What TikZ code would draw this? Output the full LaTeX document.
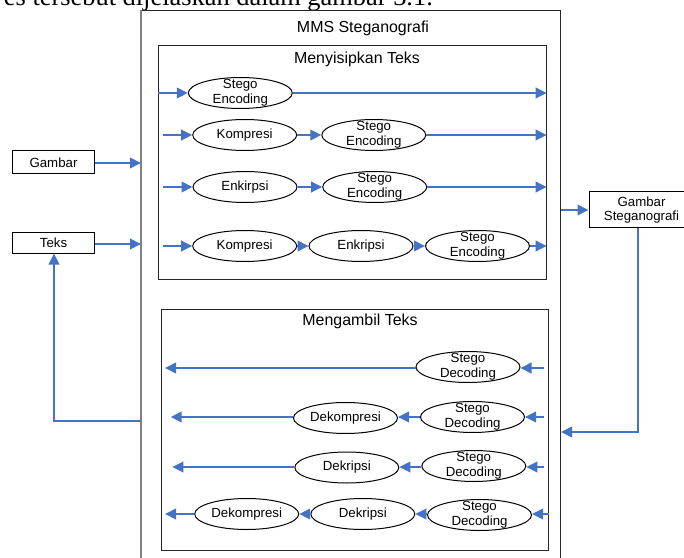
\documentclass[tikz,border=0pt]{standalone}
\usepackage{fontspec}
\setmainfont{Liberation Sans}
\newfontfamily\serifont{Liberation Serif}
\usetikzlibrary{shapes.geometric,arrows.meta}
\definecolor{arrowblue}{RGB}{68,114,196}
\definecolor{edgegray}{RGB}{128,128,128}
\begin{document}
\begin{tikzpicture}[x=1bp,y=-1bp,
  proc/.style={ellipse,draw=black,line width=1bp,minimum width=104bp,minimum height=31bp,
    inner xsep=1bp,inner ysep=-5bp,align=center,font=\fontsize{13.3}{15}\selectfont},
  flow/.style={draw=arrowblue,line width=2bp,-{Triangle[length=11bp,width=10.5bp]}},
  iobox/.style={draw=black,line width=1bp,rectangle,inner sep=0pt,align=center,
    font=\fontsize{13.3}{14.5}\selectfont},
  ttl/.style={font=\fontsize{16}{18}\selectfont,anchor=base},
  frame/.style={draw=black!85,line width=1bp}
]
\useasboundingbox (0,0) rectangle (684,558);
\clip (0,0) rectangle (684,558);

% cropped caption line at top
\node[font=\serifont\fontsize{26.5}{30}\selectfont,anchor=base east,inner sep=0pt] (cap) at (433,6) {es tersebut dijelaskan dalam gambar 3.1.};

% outer frame
\draw[frame] (141,10.5) rectangle (560.5,600);
\draw[edgegray,line width=2bp] (141,10.5) -- (141,600);
\node[ttl] (mms) at (363,32.3) {MMS Steganografi};

% inner frames
\draw[frame] (158.5,45.5) rectangle (546.5,279.5);
\node[ttl] (sisip) at (357,63.3) {Menyisipkan Teks};
\draw[frame] (161.5,309.5) rectangle (548.5,550.5);
\node[ttl] (ambil) at (360,325.7) {Mengambil Teks};

% input / output boxes
\node[iobox,minimum width=81bp,minimum height=23bp] (gambar) at (53.5,162.5) {Gambar};
\node[iobox,minimum width=81bp,minimum height=20bp] (teks) at (53.5,243) {Teks};
\node[iobox,minimum width=105bp,minimum height=36bp] (gs) at (641.5,210) {Gambar\\Steganografi};

% free ends
\coordinate (inG) at (141,163);
\coordinate (inT) at (141,244);
\coordinate (retT) at (141,421);
\coordinate (retX) at (54,421);
\coordinate (outGS) at (561,210);
\coordinate (inGS) at (561,432);
\coordinate (gsTurn) at (638,432);

\draw[flow] (gambar.east |- inG) -- (inG);
\draw[flow] (teks.east |- inT) -- (inT);
\draw[flow] (retT) -- (retX) -- (teks.south -| retX);
\draw[flow] (outGS) -- (gs.west |- outGS);
\draw[flow] (gs.south -| gsTurn) -- (gsTurn) -- (inGS);

% ---- Menyisipkan Teks ----
% row 1
\node[proc] (a1) at (240.3,93) {Stego\\Encoding};
\coordinate (a1in) at (158.3,93);
\coordinate (a1out) at (546.7,93);
\draw[flow] (a1in) -- (a1);
\draw[flow] (a1) -- (a1out);
% row 2
\node[proc] (b1) at (244.7,135) {Kompresi};
\node[proc] (b2) at (373.8,135) {Stego\\Encoding};
\coordinate (b1in) at (162.7,135);
\coordinate (b2out) at (546.7,135);
\draw[flow] (b1in) -- (b1);
\draw[flow] (b1) -- (b2);
\draw[flow] (b2) -- (b2out);
% row 3
\node[proc] (c1) at (245,187) {Enkirpsi};
\node[proc] (c2) at (374.7,187) {Stego\\Encoding};
\coordinate (c1in) at (162.7,187);
\coordinate (c2out) at (546.7,187);
\draw[flow] (c1in) -- (c1);
\draw[flow] (c1) -- (c2);
\draw[flow] (c2) -- (c2out);
% row 4
\node[proc] (d1) at (244.7,246) {Kompresi};
\node[proc] (d2) at (361,246) {Enkripsi};
\node[proc] (d3) at (477.5,246) {Stego\\Encoding};
\coordinate (d1in) at (162.7,246);
\coordinate (d3out) at (546.7,246);
\draw[flow] (d1in) -- (d1);
\draw[flow] (d1) -- (d2);
\draw[flow] (d2) -- (d3);
\draw[flow] (d3) -- (d3out);

% ---- Mengambil Teks ----
% row 1
\node[proc] (e1) at (468,367) {Stego\\Decoding};
\coordinate (e1in) at (544,368);
\coordinate (e1out) at (165,368);
\draw[flow] (e1in) -- (e1.east |- e1in);
\draw[flow] (e1.west |- e1out) -- (e1out);
% row 2
\node[proc] (f1) at (472.5,417) {Stego\\Decoding};
\node[proc] (f2) at (345.5,418) {Dekompresi};
\coordinate (f1in) at (544,417);
\coordinate (f2out) at (170.7,417);
\draw[flow] (f1in) -- (f1.east |- f1in);
\draw[flow] (f1.west |- f1in) -- (f2.east |- f1in);
\draw[flow] (f2.west |- f2out) -- (f2out);
% row 3
\node[proc] (g1) at (473.8,466) {Stego\\Decoding};
\node[proc] (g2) at (346.8,467.5) {Dekripsi};
\coordinate (g1in) at (544,467);
\coordinate (g2out) at (172.3,467);
\draw[flow] (g1in) -- (g1.east |- g1in);
\draw[flow] (g1.west |- g1in) -- (g2.east |- g1in);
\draw[flow] (g2.west |- g2out) -- (g2out);
% row 4
\node[proc] (h1) at (479.5,515) {Stego\\Decoding};
\node[proc] (h2) at (362.8,514) {Dekripsi};
\node[proc] (h3) at (246.7,514) {Dekompresi};
\coordinate (h1in) at (549,514);
\coordinate (h3out) at (165,514);
\draw[flow] (h1in) -- (h1.east |- h1in);
\draw[flow] (h1.west |- h1in) -- (h2.east |- h1in);
\draw[flow] (h2) -- (h3);
\draw[flow] (h3) -- (h3out);
\end{tikzpicture}
\end{document}
